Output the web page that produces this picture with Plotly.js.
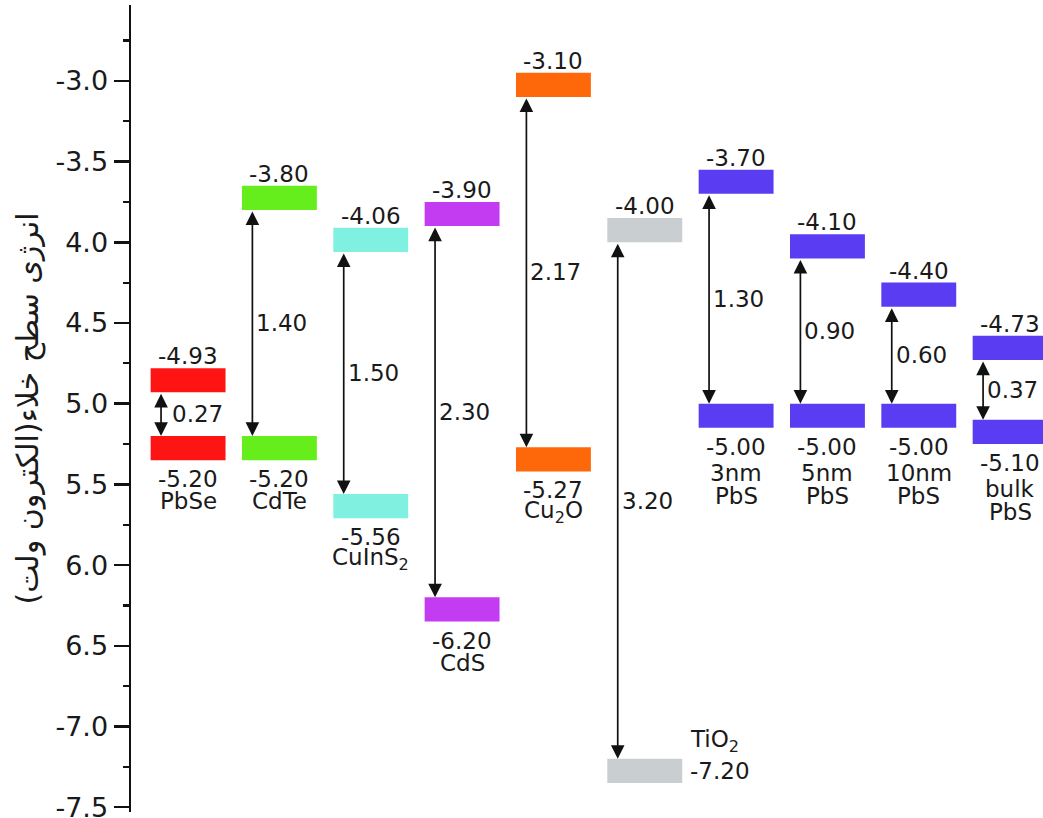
<!DOCTYPE html>
<html><head><meta charset="utf-8">
<script src="https://cdn.plot.ly/plotly-3.0.1.min.js"></script>
<style>html,body{margin:0;padding:0;background:#fff}#chart{width:1043px;height:818px}</style>
</head><body><div id="chart"></div>
<script>
// ---- data ----
const materials = ['PbSe', 'CdTe', 'CuInS<sub>2</sub>', 'CdS', 'Cu<sub>2</sub>O', 'TiO<sub>2</sub>', 'PbS', 'PbS', 'PbS', 'PbS'];
const sizeLabels = ['', '', '', '', '', '', '3nm', '5nm', '10nm', 'bulk'];
const cbValues = [-4.93, -3.80, -4.06, -3.90, -3.10, -4.00, -3.70, -4.10, -4.40, -4.73];
const vbValues = [-5.20, -5.20, -5.56, -6.20, -5.27, -7.20, -5.00, -5.00, -5.00, -5.10];
const gaps = [0.27, 1.40, 1.50, 2.30, 2.17, 3.20, 1.30, 0.90, 0.60, 0.37];
const tickValues = [-3.0, -3.5, -4.0, -4.5, -5.0, -5.5, -6.0, -6.5, -7.0, -7.5];
const tickLabels = ['-3.0', '-3.5', '4.0', '4.5', '5.0', '5.5', '6.0', '6.5', '-7.0', '-7.5'];
const yTitle = 'انرژی سطح خلاء(الکترون ولت)';

// ---- styles ----
const FONT = 'DejaVu Sans, Liberation Sans, sans-serif';
const TEXT = '#1a1a1a';
const barColors = ['#ff1414', '#66ee1c', '#80f0e0', '#c43cf2', '#ff680a', '#c9ced1', '#5a3cf2', '#5a3cf2', '#5a3cf2', '#5a3cf2'];
const labelSide = ['below', 'below', 'below', 'below', 'below', 'right', 'below', 'below', 'below', 'below'];
const gapShift = [9, 2, 2, 2, 2, 2, 2, 2, 2, 2];
const H = 0.15, BW = 0.82, AX = -0.296, LF = 23;

const xs = materials.map((_, i) => i);
const traces = [
  {type: 'bar', x: xs, base: cbValues, y: cbValues.map(() => H), width: BW,
   marker: {color: barColors, line: {width: 0}}, hoverinfo: 'skip', showlegend: false},
  {type: 'bar', x: xs, base: vbValues, y: vbValues.map(() => -H), width: BW,
   marker: {color: barColors, line: {width: 0}}, hoverinfo: 'skip', showlegend: false}
];

const ann = [];
const lab = (o) => Object.assign({xref: 'x', yref: 'y', showarrow: false, font: {family: FONT, size: LF, color: TEXT}, yanchor: 'middle'}, o);
xs.forEach((i) => {
  const cb = cbValues[i], vb = vbValues[i];
  ann.push({xref: 'x', yref: 'y', axref: 'x', ayref: 'y', x: i + AX, y: vb, ax: i + AX, ay: cb,
    text: '', showarrow: true, arrowside: 'end+start', arrowhead: 2, startarrowhead: 2,
    arrowsize: 1.6, startarrowsize: 1.6, arrowwidth: 1.7, arrowcolor: '#111', standoff: 0, startstandoff: 0});
  ann.push(lab({x: i + AX, y: (cb + vb) / 2, xanchor: 'left', xshift: gapShift[i], text: gaps[i].toFixed(2)}));
  ann.push(lab({x: i, y: cb + H, yshift: 12, xanchor: 'center', text: cb.toFixed(2)}));
  if (labelSide[i] === 'right') {
    ann.push(lab({x: i + BW / 2, y: vb - H / 2, xanchor: 'left', xshift: 6, text: vb.toFixed(2)}));
    ann.push(lab({x: i + BW / 2, y: vb - H / 2, xanchor: 'left', xshift: 6, yshift: 30, text: materials[i]}));
  } else {
    ann.push(lab({x: i, y: vb - H, yshift: -19, xanchor: 'center', text: vb.toFixed(2)}));
    if (sizeLabels[i]) {
      ann.push(lab({x: i, y: vb - H, yshift: -45, xanchor: 'center', text: sizeLabels[i]}));
      ann.push(lab({x: i, y: vb - H, yshift: -68, xanchor: 'center', text: materials[i]}));
    } else {
      ann.push(lab({x: i, y: vb - H, yshift: -41, xanchor: 'center', text: materials[i]}));
    }
  }
});

const layout = {
  width: 1043, height: 818,
  margin: {l: 131, r: 0, t: 5, b: 6},
  paper_bgcolor: '#fff', plot_bgcolor: '#fff',
  barmode: 'overlay', showlegend: false,
  font: {family: FONT, color: TEXT},
  xaxis: {visible: false, range: [-0.625, 9.36], fixedrange: true},
  yaxis: {
    range: [-7.53, -2.53], fixedrange: true,
    showgrid: false, zeroline: false,
    showline: true, linecolor: '#111', linewidth: 2.5,
    ticks: 'outside', ticklen: 15, tickwidth: 2.5, tickcolor: '#111',
    tickmode: 'array', tickvals: tickValues, ticktext: tickLabels,
    ticklabeloverflow: 'allow',
    tickfont: {family: FONT, size: 27, color: TEXT},
    minor: {ticks: 'outside', ticklen: 6, tickwidth: 2.2, tickcolor: '#111', tick0: -2.75, dtick: 0.5, showgrid: false},
    title: {text: yTitle, font: {family: FONT, size: 30, color: TEXT}, standoff: 8}
  },
  annotations: ann
};
Plotly.newPlot('chart', traces, layout, {staticPlot: true, displayModeBar: false});
</script></body></html>
